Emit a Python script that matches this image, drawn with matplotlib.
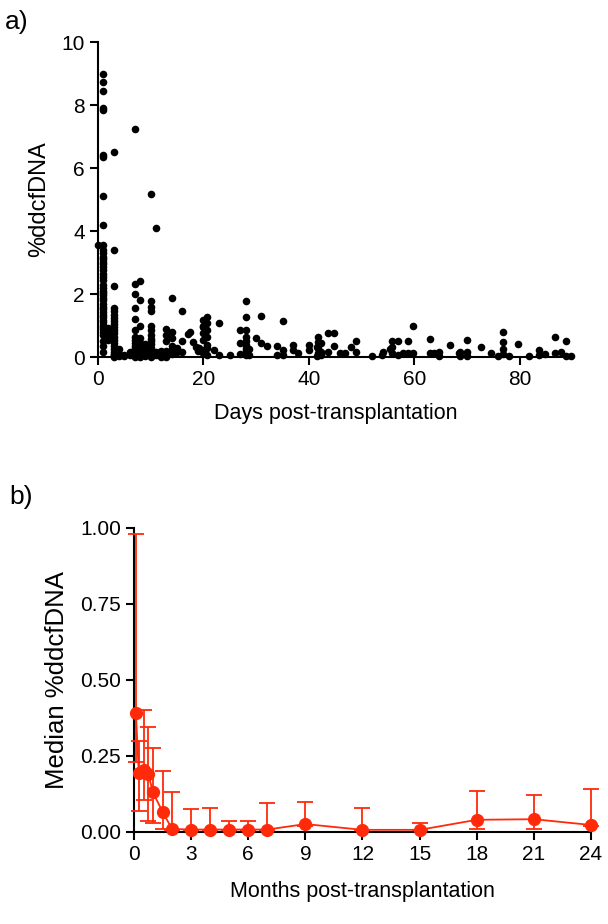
import matplotlib
matplotlib.use("Agg")
import matplotlib.pyplot as plt
import numpy as np

plt.rcParams['font.family'] = ['Liberation Sans', 'DejaVu Sans']

# panel a: individual measurements (day, %ddcfDNA)
day_0 = [0]
val_0 = [3.57]
day_1 = [1] * 44
val_1 = [9.0, 8.74, 8.44, 7.9, 7.85, 6.41, 6.36, 5.11, 4.19, 3.55, 3.4, 3.3, 3.19, 3.1,
         3.03, 2.95, 2.85, 2.75, 2.65, 2.55, 2.46, 2.3, 2.2, 2.1, 2.03, 1.96, 1.88, 1.8,
         1.68, 1.59, 1.51, 1.43, 1.35, 1.27, 1.19, 1.11, 1.03, 0.95, 0.88, 0.8, 0.7, 0.5,
         0.35, 0.15]
day_2 = [2, 2, 2, 2, 2, 2]
val_2 = [0.92, 0.78, 0.72, 0.7, 0.62, 0.55]
day_3 = [3] * 22
val_3 = [6.5, 3.4, 2.27, 1.55, 1.45, 1.35, 1.25, 1.15, 1.05, 0.95, 0.85, 0.75, 0.65,
         0.55, 0.45, 0.35, 0.25, 0.15, 0.1, 0.05, 0.02, 0.0]
day_4_6 = [4, 4, 4, 5, 5, 6, 6, 6]
val_4_6 = [0.27, 0.1, 0.03, 0.05, 0.02, 0.15, 0.05, 0.1]
day_7 = [7] * 16
val_7 = [7.25, 2.33, 2.0, 1.55, 1.2, 0.85, 0.65, 0.55, 0.45, 0.35, 0.28, 0.2, 0.12, 0.08,
         0.03, 0.0]
day_8 = [8] * 12
val_8 = [2.4, 1.8, 1.0, 0.6, 0.45, 0.38, 0.3, 0.22, 0.15, 0.1, 0.05, 0.0]
day_9 = [9, 9, 9, 9, 9]
val_9 = [0.4, 0.3, 0.2, 0.08, 0.02]
day_10 = [10] * 16
val_10 = [5.17, 1.79, 1.58, 1.45, 1.0, 0.85, 0.7, 0.58, 0.5, 0.4, 0.3, 0.2, 0.14, 0.1,
          0.05, 0.0]
day_11_12 = [11, 11, 11, 12, 12, 12]
val_11_12 = [4.1, 0.15, 0.05, 0.1, 0.0, 0.2]
day_14 = [14, 13, 14, 13, 14, 13, 14, 13, 14, 13, 14, 13]
val_14 = [1.86, 0.9, 0.8, 0.7, 0.6, 0.5, 0.35, 0.2, 0.1, 0.05, 0.25, 0.0]
day_15_19 = [15, 15, 16, 16, 16, 17, 17.4, 18, 18.6, 19.2, 19, 19]
val_15_19 = [0.3, 0.15, 1.47, 0.5, 0.15, 0.74, 0.8, 0.49, 0.33, 0.28, 0.2, 0.3]
day_20 = [20, 20.6, 20, 20.6, 20, 20.6, 20, 20.6, 20, 20.6, 20, 20.6, 20, 20.6]
val_20 = [1.0, 1.28, 1.17, 1.07, 0.96, 0.86, 0.75, 0.64, 0.54, 0.38, 0.22, 0.06, 0.12, 0.3]
day_22_27 = [22, 23, 23, 25, 27, 27, 27]
val_22_27 = [0.22, 0.06, 1.09, 0.06, 0.86, 0.44, 0.1]
day_28 = [28] * 10 + [28.7, 28.7]
val_28 = [1.79, 1.26, 0.86, 0.65, 0.5, 0.38, 0.3, 0.22, 0.12, 0.06, 0.27, 0.06]
day_30_40 = [30, 31, 31, 32, 34, 34, 35, 35, 35, 37, 37, 38, 40, 40]
val_30_40 = [0.59, 1.3, 0.44, 0.35, 0.35, 0.06, 1.15, 0.22, 0.06, 0.38, 0.22, 0.14, 0.38, 0.22]
day_42 = [41.7, 41.7, 41.7, 41.7, 42.3, 42.3, 42.3, 41.5, 41.5]
val_42 = [0.64, 0.48, 0.28, 0.12, 0.43, 0.17, 0.06, 0.33, 0.02]
day_43_49 = [43.6, 44.7, 43.6, 44.7, 45.8, 46.9, 48, 49, 49]
val_43_49 = [0.75, 0.77, 0.17, 0.35, 0.14, 0.14, 0.33, 0.52, 0.17]
day_52_60 = [52, 53.8, 54, 55.3, 55.7, 56.8, 55.7, 55.7, 56.8, 57.8, 58.7, 59.7, 59.7, 58.7]
val_52_60 = [0.03, 0.06, 0.17, 0.24, 0.52, 0.52, 0.33, 0.12, 0.06, 0.14, 0.52, 0.98, 0.12, 0.14]
day_62_69 = [62.9, 62.9, 63.7, 64.6, 64.6, 66.7, 68.4, 68.6, 68.6, 69.9, 69.9, 69.9]
val_62_69 = [0.56, 0.14, 0.12, 0.17, 0.04, 0.38, 0.12, 0.17, 0.03, 0.54, 0.17, 0.03]
day_72_90 = [72.7, 74.6, 75.8, 76.7, 76.7, 76.7, 76.7, 78, 79.7, 81.8, 83.7, 83.7, 84.7,
             86.7, 86.7, 87.7, 88.8, 88.8, 89.6]
val_72_90 = [0.31, 0.12, 0.03, 0.81, 0.49, 0.24, 0.1, 0.03, 0.41, 0.03, 0.22, 0.06, 0.1,
             0.64, 0.12, 0.17, 0.51, 0.03, 0.03]

days = (day_0 + day_1 + day_2 + day_3 + day_4_6 + day_7 + day_8 + day_9 + day_10 + day_11_12
        + day_14 + day_15_19 + day_20 + day_22_27 + day_28 + day_30_40 + day_42 + day_43_49
        + day_52_60 + day_62_69 + day_72_90)
values = (val_0 + val_1 + val_2 + val_3 + val_4_6 + val_7 + val_8 + val_9 + val_10 + val_11_12
          + val_14 + val_15_19 + val_20 + val_22_27 + val_28 + val_30_40 + val_42 + val_43_49
          + val_52_60 + val_62_69 + val_72_90)

# panel b: median with error bars
months = [0.1, 0.25, 0.5, 0.75, 1, 1.5, 2, 3, 4, 5, 6, 7, 9, 12, 15, 18, 21, 24]
median = [0.39, 0.195, 0.205, 0.19, 0.13, 0.066, 0.01, 0.008, 0.008, 0.008, 0.008, 0.008,
          0.026, 0.007, 0.007, 0.04, 0.042, 0.023]
upper = [0.98, 0.30, 0.40, 0.345, 0.276, 0.20, 0.13, 0.077, 0.08, 0.036, 0.035, 0.095,
         0.10, 0.08, 0.03, 0.135, 0.12, 0.14]
lower = [0.23, 0.07, 0.105, 0.036, 0.03, 0.01, 0.005, 0.005, 0.005, 0.005, 0.005, 0.005,
         0.02, 0.005, 0.005, 0.01, 0.01, 0.02]

red = '#ff2a0a'

fig = plt.figure(figsize=(6.08, 9.24), dpi=100)

ax1 = fig.add_axes([0.161, 0.6136, 0.781, 0.3409])
ax1.scatter(days, values, s=30, color='black', clip_on=False, zorder=3, linewidths=0)
ax1.set_xlim(0, 90)
ax1.set_ylim(0, 10)
ax1.set_xticks([0, 20, 40, 60, 80])
ax1.set_yticks([0, 2, 4, 6, 8, 10])
ax1.set_xlabel('Days post-transplantation', fontsize=15.5, labelpad=10)
ax1.set_ylabel('%ddcfDNA', fontsize=17, labelpad=8)
fig.text(0.008, 0.976, 'a)', fontsize=19, va='center')

ax2 = fig.add_axes([0.2204, 0.0996, 0.7516, 0.329])
yerr = [np.array(median) - np.array(lower), np.array(upper) - np.array(median)]
ax2.errorbar(months, median, yerr=yerr, color=red, marker='o', markersize=8.5,
             linewidth=1.3, elinewidth=1.3, capsize=5.5, capthick=1.3, clip_on=False, zorder=3)
ax2.set_xlim(0, 24)
ax2.set_ylim(0, 1)
ax2.set_xticks(range(0, 25, 3))
ax2.set_yticks([0, 0.25, 0.5, 0.75, 1.0])
ax2.set_yticklabels(['0.00', '0.25', '0.50', '0.75', '1.00'])
ax2.set_xlabel('Months post-transplantation', fontsize=15.5, labelpad=12)
ax2.set_ylabel('Median %ddcfDNA', fontsize=18.5, labelpad=8)
fig.text(0.016, 0.462, 'b)', fontsize=19, va='center')

for ax in (ax1, ax2):
    ax.spines['top'].set_visible(False)
    ax.spines['right'].set_visible(False)
    ax.spines['left'].set_linewidth(1.5)
    ax.spines['bottom'].set_linewidth(1.5)
    ax.tick_params(direction='out', length=6, width=1.5, labelsize=15)

fig.savefig('out.png', dpi=100)
